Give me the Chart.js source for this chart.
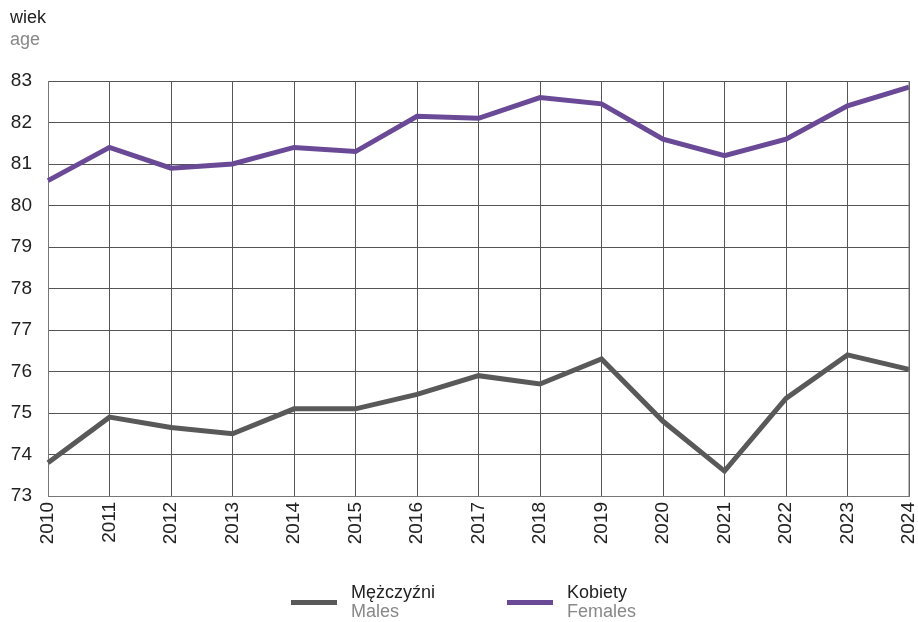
<!DOCTYPE html>
<html>
<head>
<meta charset="utf-8">
<script src="https://cdn.jsdelivr.net/npm/chart.js@4"></script>
<style>
  body { margin: 0; background: #fff; font-family: "Liberation Sans", Arial, sans-serif; }
  #wrap { position: relative; width: 918px; height: 622px; }
  .t1 { color: #222; }
  .t2 { color: #888; }
  #unit { position: absolute; left: 10px; top: 6px; font-size: 18px; line-height: 22px; }
  .leg { position: absolute; top: 583px; font-size: 18px; line-height: 19px; }
  .leg .sw { position: absolute; left: 0; top: 17px; width: 46px; height: 5px; }
  .leg .tx { position: absolute; left: 60px; top: 0; white-space: nowrap; }
</style>
</head>
<body>
<div id="wrap">
  <canvas id="lifeChart" width="918" height="622"></canvas>
  <div id="unit"><div class="t1">wiek</div><div class="t2">age</div></div>
  <div class="leg" style="left:291px"><div class="sw" style="background:#595959"></div><div class="tx"><div class="t1">Mężczyźni</div><div class="t2">Males</div></div></div>
  <div class="leg" style="left:507px"><div class="sw" style="background:#6a4a96"></div><div class="tx"><div class="t1">Kobiety</div><div class="t2">Females</div></div></div>
</div>
<script>
// lata
const years = ['2010', '2011', '2012', '2013', '2014', '2015', '2016', '2017', '2018', '2019', '2020', '2021', '2022', '2023', '2024'];
// Mężczyźni / Males
const males = [73.8, 74.9, 74.65, 74.5, 75.1, 75.1, 75.45, 75.9, 75.7, 76.3, 74.8, 73.6, 75.35, 76.4, 76.05];
// Kobiety / Females
const females = [80.6, 81.4, 80.9, 81.0, 81.4, 81.3, 82.15, 82.1, 82.6, 82.45, 81.6, 81.2, 81.6, 82.4, 82.85];
const yMin = 73;
const yMax = 83;

const ctx = document.getElementById('lifeChart').getContext('2d');

const config = {
    type: 'line',
    data: {
        labels: years,
        datasets: [
            {
                label: 'Mężczyźni',
                data: males,
                borderColor: '#595959',
                borderWidth: 5,
                pointRadius: 0,
                tension: 0,
                fill: false,
            },
            {
                label: 'Kobiety',
                data: females,
                borderColor: '#6a4a96',
                borderWidth: 5,
                pointRadius: 0,
                tension: 0,
                fill: false,
            },
        ],
    },
    options: {
        responsive: false,
        animation: false,
        layout: { padding: { left: 0, top: 81, right: 9, bottom: 0 } },
        plugins: {
            legend: { display: false },
            tooltip: { enabled: false },
        },
        scales: {
            x: {
                grid: { color: '#555', lineWidth: 1, drawTicks: false },
                border: { color: '#777', width: 1 },
                ticks: {
                    color: '#222',
                    font: { family: 'Liberation Sans', size: 19 },
                    minRotation: 90,
                    maxRotation: 90,
                    padding: 6,
                    autoSkip: false,
                },
                afterFit: (scale) => {
                    scale.height = 126;
                    scale.paddingLeft = 0;
                    scale.paddingRight = 0;
                },
            },
            y: {
                min: yMin,
                max: yMax,
                grid: { color: '#555', lineWidth: 1, drawTicks: false },
                border: { color: '#777', width: 1 },
                ticks: {
                    stepSize: 1,
                    color: '#222',
                    font: { family: 'Liberation Sans', size: 19 },
                    padding: 16,
                },
                afterFit: (scale) => { scale.width = 48; },
            },
        },
    },
    plugins: [{
        // prawa krawędź wykresu
        id: 'rightBorder',
        afterDraw(chart) {
            const a = chart.chartArea;
            const c = chart.ctx;
            c.save();
            c.strokeStyle = '#777';
            c.lineWidth = 1;
            c.beginPath();
            c.moveTo(a.right, a.top);
            c.lineTo(a.right, a.bottom);
            c.stroke();
            c.restore();
        },
    }],
};

new Chart(ctx, config);
</script>
</body>
</html>
